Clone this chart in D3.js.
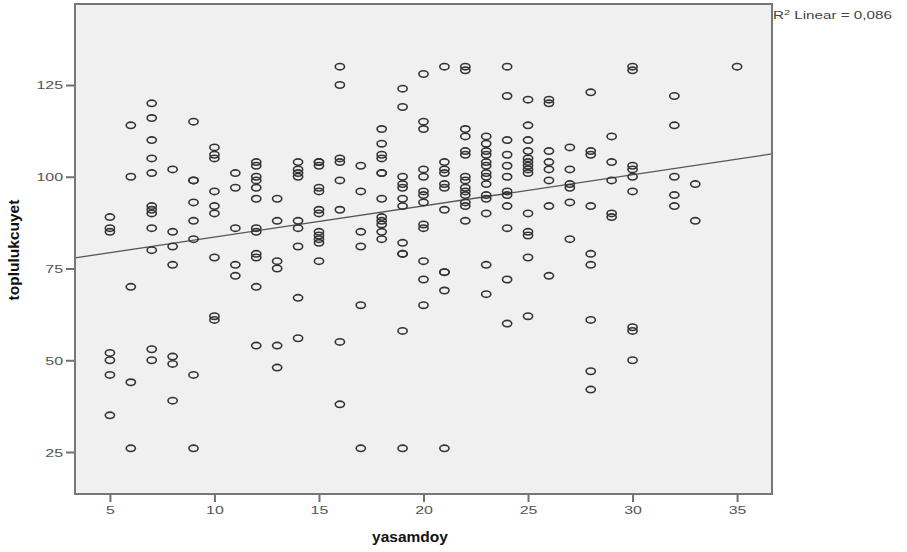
<!DOCTYPE html>
<html><head><meta charset="utf-8">
<script src="https://cdn.jsdelivr.net/npm/d3@7"></script>
<style>body{margin:0;background:#fff;} svg{display:block;}</style>
</head><body>
<svg id="c" width="907" height="552"></svg>
<script>
// x categories (yasamdoy) and y values (toplulukcuyet) per x
const ages = [5,6,7,8,9,10,11,12,13,14,15,16,17,18,19,20,21,22,23,24,25,26,27,28,29,30,32,33,35];
const scores = [
  [89,86,85,52,50,46,35],
  [114,100,70,44,26],
  [120,116,110,105,101,92,91,90,86,80,53,50],
  [102,85,81,76,51,49,39],
  [115,99,99,93,88,83,46,26],
  [108,106,105,96,92,90,78,62,61],
  [101,97,86,76,73],
  [104,103,100,99,97,94,86,85,79,78,70,54],
  [94,88,77,75,54,48],
  [104,102,101,100,88,86,81,67,56],
  [104,104,103,97,96,91,90,85,84,83,82,77],
  [130,125,105,104,99,91,55,38],
  [103,96,85,81,65,26],
  [113,109,106,105,101,101,94,89,88,87,85,83],
  [124,119,100,98,97,94,92,82,79,79,58,26],
  [128,115,113,102,100,96,95,93,87,86,77,72,65],
  [130,104,102,101,98,97,91,74,74,69,26],
  [130,129,113,111,107,106,100,99,97,96,95,93,92,88],
  [111,109,107,106,104,103,101,100,98,95,94,90,76,68],
  [130,122,110,106,103,100,96,95,92,86,72,60],
  [121,114,110,107,105,104,103,102,101,90,85,84,78,62],
  [121,120,107,104,102,99,92,73],
  [108,102,98,97,93,83],
  [123,107,106,92,79,76,61,47,42],
  [111,104,99,90,89],
  [130,129,103,102,100,96,59,58,50],
  [122,114,100,95,92],
  [98,88],
  [130]
];
const xTicks = [5,10,15,20,25,30,35];
const yTicks = [25,50,75,100,125];
const fitIntercept = 75.06, fitSlope = 0.85;
const xDomain = [3.33, 36.67];
const yDomain = [13.56, 147.07];
const fitLabel = "0,086";

const svg = d3.select("#c");
const L = 75, R = 772, T = 4, B = 494;
const x = d3.scaleLinear().domain(xDomain).range([L, R]);
const y = d3.scaleLinear().domain(yDomain).range([B, T]);
const SX = 1.45;

svg.append("rect").attr("x", L).attr("y", T).attr("width", R - L).attr("height", B - T)
  .attr("fill", "#f0f0f0");

const points = [];
ages.forEach((a, i) => scores[i].forEach(v => points.push({a, v})));

// axes
const xAxis = svg.append("g").attr("transform", `translate(0,${B})`)
  .call(d3.axisBottom(x).tickValues(xTicks).tickSize(8).tickFormat(d3.format("d")));
const yAxis = svg.append("g").attr("transform", `translate(${L},0)`)
  .call(d3.axisLeft(y).tickValues(yTicks).tickSize(9).tickFormat(d3.format("d")));
[xAxis, yAxis].forEach(g => {
  g.select(".domain").remove();
  g.selectAll(".tick line").attr("stroke", "#707070").attr("stroke-width", 2);
  g.selectAll(".tick text").attr("fill", "#555").attr("font-family", "Liberation Sans, Arial, sans-serif")
    .attr("font-size", 11);
});
xAxis.selectAll(".tick text").attr("y", 0).attr("dy", 0)
  .attr("transform", `translate(0,20) scale(${SX},1)`);
yAxis.selectAll(".tick text").attr("x", 0).attr("dy", 0).attr("text-anchor", "end")
  .attr("transform", `translate(-12,4) scale(${SX},1)`);

// fit line
svg.append("line")
  .attr("x1", x(xDomain[0])).attr("y1", y(fitIntercept + fitSlope * xDomain[0]))
  .attr("x2", x(xDomain[1])).attr("y2", y(fitIntercept + fitSlope * xDomain[1]))
  .attr("stroke", "#555").attr("stroke-width", 1.3);

// points
svg.append("g").selectAll("ellipse").data(points).join("ellipse")
  .attr("cx", d => x(d.a)).attr("cy", d => y(d.v))
  .attr("rx", 4.6).attr("ry", 3.2)
  .attr("fill", "none").attr("stroke", "#333").attr("stroke-width", 1.6);

// frame
svg.append("rect").attr("x", L).attr("y", T).attr("width", R - L).attr("height", B - T)
  .attr("fill", "none").attr("stroke", "#777").attr("stroke-width", 2);

// titles
svg.append("text").attr("x", 410).attr("y", 542).attr("text-anchor", "middle")
  .attr("font-family", "Liberation Sans, Arial, sans-serif").attr("font-weight", "bold")
  .attr("font-size", 15.5).attr("fill", "#111").text("yasamdoy");
svg.append("text").attr("transform", "translate(19,250) rotate(-90)").attr("text-anchor", "middle")
  .attr("font-family", "Liberation Sans, Arial, sans-serif").attr("font-weight", "bold")
  .attr("font-size", 15.5).attr("fill", "#111").text("toplulukcuyet");

// R2 label
const r2 = svg.append("text").attr("transform", `translate(773,18.5) scale(${SX},1)`)
  .attr("font-family", "Liberation Sans, Arial, sans-serif").attr("font-size", 10.5).attr("fill", "#444");
r2.append("tspan").text("R");
r2.append("tspan").attr("font-size", 7.5).attr("dy", -4).text("2");
r2.append("tspan").attr("dy", 4).text(" Linear = " + fitLabel);
</script>
</body></html>
